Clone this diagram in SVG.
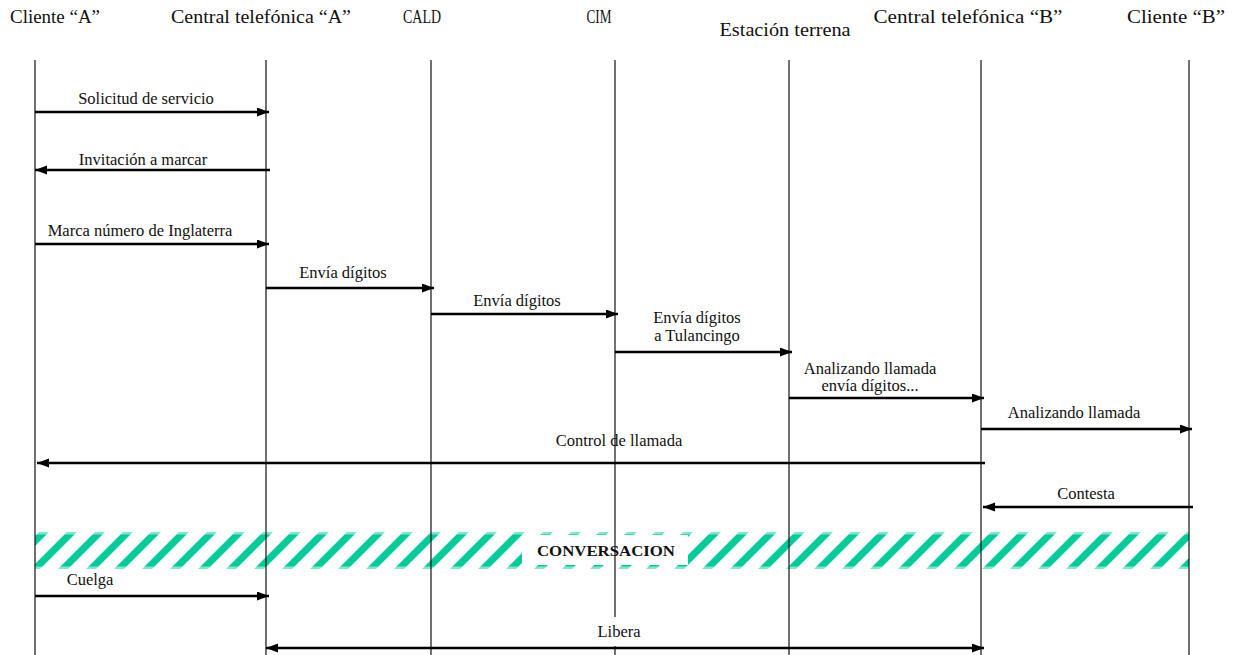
<svg xmlns="http://www.w3.org/2000/svg" width="1234" height="655" viewBox="0 0 1234 655">
  <style>
    .hdr { font-family: "Liberation Serif", "Times New Roman", serif; font-size: 19px; fill: #111; text-anchor: middle; }
    .lbl { font-family: "Liberation Serif", "Times New Roman", serif; font-size: 16.5px; fill: #111; text-anchor: middle; }
    .life { stroke: #111; stroke-width: 1.2; fill: none; }
    .msg { stroke: #000; stroke-width: 2.6; fill: none; marker-end: url(#head); }
    .conv { font-family: "Liberation Serif", "Times New Roman", serif; font-size: 15px; font-weight: bold; fill: #111; text-anchor: middle; }
  </style>
  <defs>
    <marker id="head" markerUnits="userSpaceOnUse" markerWidth="13" markerHeight="10" refX="12" refY="4.5" orient="auto-start-reverse">
      <path d="M0,0 L12,4.5 L0,9 z" fill="#000"/>
    </marker>
    <!-- diagonal "/" hatching for the conversation band -->
    <pattern id="hatch" patternUnits="userSpaceOnUse" x="9" y="534" width="28" height="28">
      <polygon points="0,28 10,28 38,0 28,0" fill="#00CC99"/>
      <polygon points="-28,28 -18,28 10,0 0,0" fill="#00CC99"/>
    </pattern>
  </defs>

  <rect width="1234" height="655" fill="#fff"/>

  <!-- conversation band -->
  <g id="conversation">
    <rect x="35" y="532" width="1154" height="37" fill="url(#hatch)"/>
    <rect x="35" y="532" width="1154" height="2.5" fill="#fff" opacity="0.5"/>
    <rect x="35" y="566.5" width="1154" height="2.5" fill="#fff" opacity="0.5"/>
    <rect x="522" y="535" width="166" height="30" fill="#fff"/>
    <text class="conv" x="606" y="556" textLength="138" lengthAdjust="spacingAndGlyphs">CONVERSACION</text>
  </g>

  <!-- participants -->
  <g id="cliente-a">
    <text class="hdr" x="55" y="23" textLength="90" lengthAdjust="spacingAndGlyphs">Cliente “A”</text>
    <line class="life" x1="35" y1="60" x2="35" y2="655"/>
  </g>
  <g id="central-a">
    <text class="hdr" x="261" y="23" textLength="180" lengthAdjust="spacingAndGlyphs">Central telefónica “A”</text>
    <line class="life" x1="266" y1="60" x2="266" y2="655"/>
  </g>
  <g id="cald">
    <text class="hdr" x="422" y="23" textLength="38" lengthAdjust="spacingAndGlyphs">CALD</text>
    <line class="life" x1="431" y1="60" x2="431" y2="655"/>
  </g>
  <g id="cim">
    <text class="hdr" x="599" y="23" textLength="25" lengthAdjust="spacingAndGlyphs">CIM</text>
    <line class="life" x1="615" y1="60" x2="615" y2="655"/>
  </g>
  <g id="estacion-terrena">
    <text class="hdr" x="785" y="36" textLength="131" lengthAdjust="spacingAndGlyphs">Estación terrena</text>
    <line class="life" x1="789" y1="60" x2="789" y2="655"/>
  </g>
  <g id="central-b">
    <text class="hdr" x="968" y="23" textLength="189" lengthAdjust="spacingAndGlyphs">Central telefónica “B”</text>
    <line class="life" x1="981" y1="60" x2="981" y2="655"/>
  </g>
  <g id="cliente-b">
    <text class="hdr" x="1176" y="23" textLength="98" lengthAdjust="spacingAndGlyphs">Cliente “B”</text>
    <line class="life" x1="1189" y1="60" x2="1189" y2="655"/>
  </g>

  <!-- messages -->
  <g id="connectors">
    <line class="msg" x1="35" y1="112" x2="269" y2="112"/>
    <text class="lbl" x="146" y="104">Solicitud de servicio</text>

    <line class="msg" x1="270" y1="170" x2="35" y2="170"/>
    <text class="lbl" x="143" y="165">Invitación a marcar</text>

    <line class="msg" x1="35" y1="244" x2="269" y2="244"/>
    <text class="lbl" x="140" y="236">Marca número de Inglaterra</text>

    <line class="msg" x1="266" y1="288" x2="434" y2="288"/>
    <text class="lbl" x="343" y="278">Envía dígitos</text>

    <line class="msg" x1="431" y1="314" x2="618" y2="314"/>
    <text class="lbl" x="517" y="306">Envía dígitos</text>

    <line class="msg" x1="615" y1="352" x2="792" y2="352"/>
    <text class="lbl" x="697" y="323">Envía dígitos</text>
    <text class="lbl" x="697" y="341">a Tulancingo</text>

    <line class="msg" x1="789" y1="398" x2="984" y2="398"/>
    <text class="lbl" x="870" y="374">Analizando llamada</text>
    <text class="lbl" x="870" y="391">envía dígitos...</text>

    <line class="msg" x1="981" y1="429" x2="1192" y2="429"/>
    <text class="lbl" x="1074" y="418">Analizando llamada</text>

    <line class="msg" x1="985" y1="463" x2="37" y2="463"/>
    <text class="lbl" x="619" y="446">Control de llamada</text>

    <line class="msg" x1="1193" y1="507" x2="983" y2="507"/>
    <text class="lbl" x="1086" y="499">Contesta</text>

    <line class="msg" x1="35" y1="596" x2="269" y2="596"/>
    <text class="lbl" x="90" y="585">Cuelga</text>

    <rect x="575" y="617" width="85" height="29" fill="#fff"/>
    <line class="msg" x1="266" y1="648" x2="984" y2="648" style="marker-start:url(#head)"/>
    <text class="lbl" x="619" y="637">Libera</text>
  </g>
</svg>
